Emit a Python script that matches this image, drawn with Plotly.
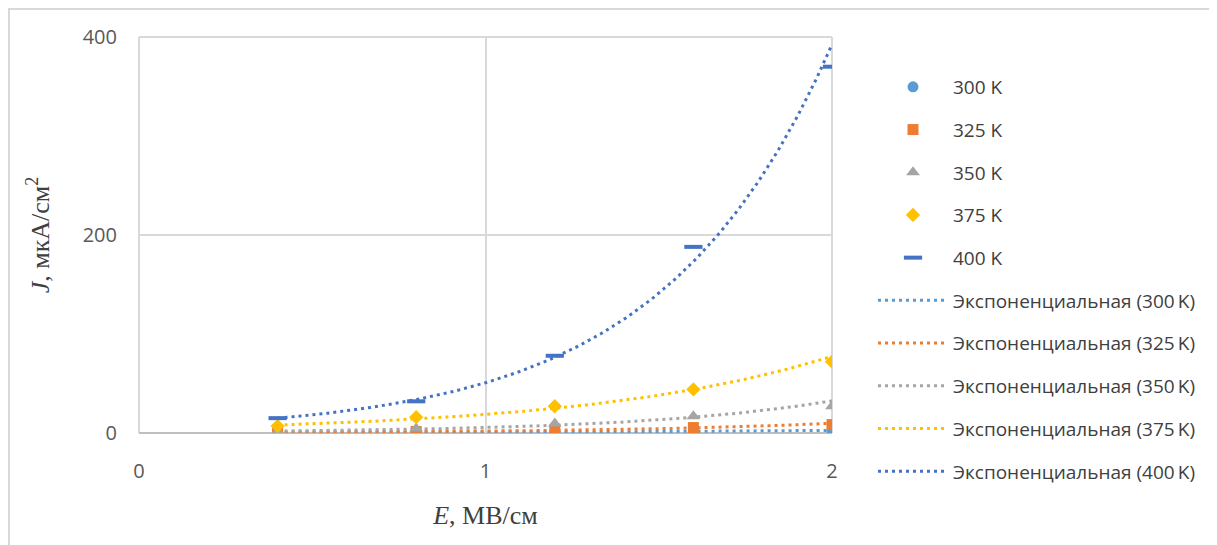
import numpy as np
import plotly.graph_objects as go

E = [0.4, 0.8, 1.2, 1.6, 2.0]
temps = ["300 K", "325 K", "350 K", "375 K", "400 K"]
J300 = [0.3, 0.6, 1.0, 1.6, 2.5]
J325 = [0.6, 1.5, 3.0, 5.5, 8.5]
J350 = [1.5, 4.5, 9.5, 17.0, 27.0]
J375 = [7.0, 16.0, 27.0, 44.0, 72.0]
J400 = [15.0, 32.0, 78.0, 188.0, 370.0]
series = [J300, J325, J350, J375, J400]

colors = ["#5B9BD5", "#ED7D31", "#A5A5A5", "#FFC000", "#4472C4"]
symbols = ["circle", "square", "triangle-up", "diamond", "line-ew"]
sizes = [11, 11, 12, 11, 13]

fig = go.Figure()

# exponential trendlines (least-squares fit of ln J vs E)
xs = np.linspace(E[0], E[-1], 200)
for i, (t, J) in enumerate(zip(temps, series)):
    b, lna = np.polyfit(E, np.log(J), 1)
    ys = np.exp(lna) * np.exp(b * xs)
    fig.add_trace(go.Scatter(
        x=xs, y=ys, mode="lines",
        line=dict(color=colors[i], width=3, dash="3px,4px"),
        name=f"Экспоненциальная ({t.replace(' ', '\u2009')})",
        legendgroup=f"t{i}", legendrank=10 + i,
        hoverinfo="skip"))

for i, (t, J) in enumerate(zip(temps, series)):
    mk = dict(color=colors[i], size=sizes[i], symbol=symbols[i])
    if symbols[i] == "line-ew":
        mk["line"] = dict(color=colors[i], width=4)
    else:
        mk["line"] = dict(width=0)
    fig.add_trace(go.Scatter(
        x=E, y=J, mode="markers", marker=mk, name=t,
        legendgroup=f"m{i}", legendrank=i))

# page body adds an 8px offset
W, H = 1209, 537
L, T = 131, 29
pw, ph = 693, 396
R = W - L - pw
B = H - T - ph

def px_x(x):
    return (x - L) / pw

def px_y(y):
    return 1 - (y - T) / ph

grid = "#D9D9D9"
fig.update_layout(
    width=W, height=H,
    margin=dict(l=L, r=R, t=T, b=B, autoexpand=False),
    paper_bgcolor="white", plot_bgcolor="white",
    font=dict(family="Open Sans", color="#595959"),
    showlegend=True,
    legend=dict(
        x=px_x(865), y=px_y(60),
        xanchor="left", yanchor="top", maxheight=520,
        font=dict(size=19, color="#404040"),
        itemwidth=70, tracegroupgap=15, traceorder="grouped",
        bgcolor="rgba(0,0,0,0)"),
    xaxis=dict(
        range=[0, 2], dtick=1, tick0=0,
        showgrid=True, gridcolor=grid, gridwidth=2,
        zeroline=False, showline=False,
        ticks="outside", ticklen=20, tickcolor="rgba(0,0,0,0)",
        tickfont=dict(size=20, color="#595959"),
        title=dict(text="<i>E</i>, МВ/см", standoff=22,
                   font=dict(family="Liberation Serif", size=26, color="#404040"))),
    yaxis=dict(
        range=[0, 400], dtick=200, tick0=0,
        showgrid=True, gridcolor=grid, gridwidth=2,
        zeroline=False, showline=False,
        ticks="outside", ticklen=17, tickcolor="rgba(0,0,0,0)",
        tickfont=dict(size=20, color="#595959"),
        title=dict(text="<i>J</i>, мкА/см<sup>2</sup>", standoff=25,
                   font=dict(family="Liberation Serif", size=26, color="#404040"))),
    shapes=[
        dict(type="line", xref="paper", yref="paper", x0=0, x1=0, y0=0, y1=1,
             line=dict(color=grid, width=2), layer="below"),
        dict(type="line", xref="paper", yref="paper", x0=1, x1=1, y0=0, y1=1,
             line=dict(color=grid, width=2), layer="below"),
        dict(type="line", xref="paper", yref="paper", x0=0, x1=1, y0=1, y1=1,
             line=dict(color=grid, width=2), layer="below"),
        # x axis line
        dict(type="line", xref="paper", yref="paper", x0=0, x1=1, y0=0, y1=0,
             line=dict(color="#BFBFBF", width=2), layer="below"),
        # outer chart border
        dict(type="rect", xref="paper", yref="paper",
             x0=px_x(1), x1=px_x(1240), y0=px_y(560), y1=px_y(1),
             line=dict(color=grid, width=2), layer="below"),
    ],
)

fig.write_html("out.html")
